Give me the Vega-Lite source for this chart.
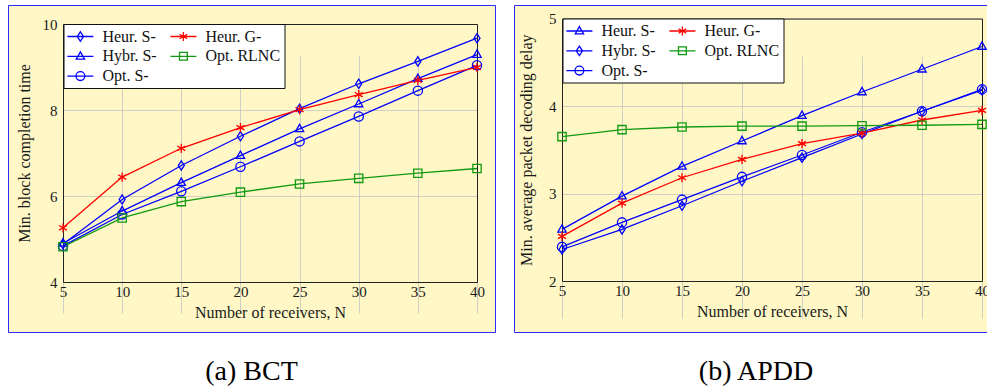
{
  "$schema": "https://vega.github.io/schema/vega-lite/v6.json",
  "padding": {"left": 7, "top": 4, "right": 0, "bottom": 0},
  "background": "white",
  "spacing": 17,
  "config": {
    "font": "Liberation Serif",
    "view": {"fill": "#fff8c6", "stroke": "#2a2aff", "strokeWidth": 1},
    "axis": {
      "labelFont": "Liberation Serif", "titleFont": "Liberation Serif",
      "labelFontSize": 15, "titleFontSize": 16, "titleFontWeight": "normal",
      "labelColor": "#1a1a1a", "titleColor": "#1a1a1a",
      "domainColor": "#222222", "domainWidth": 1, "ticks": false,
      "gridColor": "#c4c4c4", "gridWidth": 0.8,
      "labelFlush": false, "labelOverlap": false
    },
    "legend": {"labelFont": "Liberation Serif"}
  },
  "resolve": {"scale": {"color": "independent", "shape": "independent"}, "legend": {"color": "independent", "shape": "independent"}},
  "hconcat": [
    {
      "width": 487, "height": 327,
      "title": {"text": "(a) BCT", "orient": "bottom", "fontSize": 28, "font": "Liberation Serif", "fontWeight": "normal", "offset": 26, "anchor": "middle", "color": "black"},
      "data": {"values": [
        {"N": 5, "s": "Heur. S-", "v": 4.88}, {"N": 10, "s": "Heur. S-", "v": 5.92}, {"N": 15, "s": "Heur. S-", "v": 6.71}, {"N": 20, "s": "Heur. S-", "v": 7.39}, {"N": 25, "s": "Heur. S-", "v": 8.03}, {"N": 30, "s": "Heur. S-", "v": 8.61}, {"N": 35, "s": "Heur. S-", "v": 9.13}, {"N": 40, "s": "Heur. S-", "v": 9.67},
        {"N": 5, "s": "Hybr. S-", "v": 4.9}, {"N": 10, "s": "Hybr. S-", "v": 5.65}, {"N": 15, "s": "Hybr. S-", "v": 6.31}, {"N": 20, "s": "Hybr. S-", "v": 6.94}, {"N": 25, "s": "Hybr. S-", "v": 7.56}, {"N": 30, "s": "Hybr. S-", "v": 8.14}, {"N": 35, "s": "Hybr. S-", "v": 8.73}, {"N": 40, "s": "Hybr. S-", "v": 9.29},
        {"N": 5, "s": "Opt. S-", "v": 4.84}, {"N": 10, "s": "Opt. S-", "v": 5.57}, {"N": 15, "s": "Opt. S-", "v": 6.11}, {"N": 20, "s": "Opt. S-", "v": 6.68}, {"N": 25, "s": "Opt. S-", "v": 7.27}, {"N": 30, "s": "Opt. S-", "v": 7.85}, {"N": 35, "s": "Opt. S-", "v": 8.45}, {"N": 40, "s": "Opt. S-", "v": 9.04},
        {"N": 5, "s": "Heur. G-", "v": 5.26}, {"N": 10, "s": "Heur. G-", "v": 6.44}, {"N": 15, "s": "Heur. G-", "v": 7.11}, {"N": 20, "s": "Heur. G-", "v": 7.59}, {"N": 25, "s": "Heur. G-", "v": 8.01}, {"N": 30, "s": "Heur. G-", "v": 8.36}, {"N": 35, "s": "Heur. G-", "v": 8.69}, {"N": 40, "s": "Heur. G-", "v": 8.99},
        {"N": 5, "s": "Opt. RLNC", "v": 4.82}, {"N": 10, "s": "Opt. RLNC", "v": 5.49}, {"N": 15, "s": "Opt. RLNC", "v": 5.87}, {"N": 20, "s": "Opt. RLNC", "v": 6.09}, {"N": 25, "s": "Opt. RLNC", "v": 6.28}, {"N": 30, "s": "Opt. RLNC", "v": 6.41}, {"N": 35, "s": "Opt. RLNC", "v": 6.53}, {"N": 40, "s": "Opt. RLNC", "v": 6.64}
      ]},
      "resolve": {"axis": {"x": "independent", "y": "independent"}},
      "layer": [
        {
          "mark": {"type": "line", "strokeWidth": 1.3},
          "encoding": {
            "x": {"field": "N", "type": "quantitative",
              "scale": {"domain": [5, 40], "range": [55, 469], "nice": false, "zero": false},
              "axis": {"orient": "bottom", "offset": -50, "values": [5, 10, 15, 20, 25, 30, 35, 40], "grid": true, "labelPadding": 2, "title": "Number of receivers, N", "titlePadding": 5}},
            "y": {"field": "v", "type": "quantitative",
              "scale": {"domain": [4, 10], "range": [277, 19], "nice": false, "zero": false},
              "axis": {"orient": "left", "offset": -55, "values": [4, 6, 8, 10], "grid": true, "labelPadding": 6, "title": "Min. block completion time", "titlePadding": 10}},
            "color": {"field": "s", "type": "nominal",
              "scale": {"domain": ["Heur. S-", "Heur. G-", "Hybr. S-", "Opt. RLNC", "Opt. S-"], "range": ["#0000ff", "#ff0000", "#0000ff", "#119911", "#0000ff"]},
              "legend": {
                "orient": "none", "legendX": 55.5, "legendY": 19, "direction": "horizontal", "columns": 2, "title": null,
                "strokeColor": "#111111", "fillColor": "white", "padding": 3.5, "rowPadding": 2.8, "columnPadding": 10,
                "labelOffset": 13, "labelFont": "Liberation Serif", "labelFontSize": 16, "labelColor": "#111111",
                "symbolSize": 256, "symbolOffset": 4.4, "symbolStrokeWidth": 1.3, "symbolOpacity": 1,
                "encode": {"symbols": {"update": {
                  "fill": {"value": "transparent"},
                  "shape": {"signal": "datum.value === 'Heur. S-' ? 'M-1.625,0H1.625M0,-0.59L0.39,0L0,0.59L-0.39,0Z' : datum.value === 'Hybr. S-' ? 'M-1.625,0H1.625M0,-0.55L0.52,0.36L-0.52,0.36Z' : datum.value === 'Opt. S-' ? 'M-1.625,0H1.625M0.55,0A0.55,0.55 0 1 1 -0.55,0A0.55,0.55 0 1 1 0.55,0Z' : datum.value === 'Heur. G-' ? 'M-1.625,0H1.625M0,-0.55V0.55M-0.48,-0.275L0.48,0.275M-0.48,0.275L0.48,-0.275' : 'M-1.625,0H1.625M-0.49,-0.49H0.49V0.49H-0.49Z'"}
                }}}
              }}
          }
        },
        {
          "mark": {"type": "point", "filled": false, "size": 85, "strokeWidth": 1.3, "opacity": 1},
          "encoding": {
            "x": {"field": "N", "type": "quantitative",
              "scale": {"domain": [5, 40], "range": [55, 469], "nice": false, "zero": false},
              "axis": {"orient": "top", "offset": -19, "grid": false, "labels": false, "title": null}},
            "y": {"field": "v", "type": "quantitative",
              "scale": {"domain": [4, 10], "range": [277, 19], "nice": false, "zero": false},
              "axis": {"orient": "right", "offset": -18, "grid": false, "labels": false, "title": null}},
            "color": {"field": "s", "type": "nominal", "legend": null},
            "shape": {"field": "s", "type": "nominal", "legend": null,
              "scale": {"domain": ["Opt. S-", "Opt. RLNC", "Hybr. S-", "Heur. G-", "Heur. S-"],
                "range": ["M1,0A1,1 0 1 1 -1,0A1,1 0 1 1 1,0Z", "M-0.9,-0.9H0.9V0.9H-0.9Z", "M0,-1L0.9,0.6L-0.9,0.6Z", "M0,-1V1M-0.87,-0.5L0.87,0.5M-0.87,0.5L0.87,-0.5", "M0,-1L0.65,0L0,1L-0.65,0Z"]}}
          }
        }
      ]
    },
    {
      "width": 476, "height": 327,
      "title": {"text": "(b) APDD", "orient": "bottom", "fontSize": 28, "font": "Liberation Serif", "fontWeight": "normal", "offset": 26, "anchor": "middle", "dx": 4, "color": "black"},
      "data": {"values": [
        {"N": 5, "s": "Heur. S-", "v": 2.59}, {"N": 10, "s": "Heur. S-", "v": 2.97}, {"N": 15, "s": "Heur. S-", "v": 3.31}, {"N": 20, "s": "Heur. S-", "v": 3.6}, {"N": 25, "s": "Heur. S-", "v": 3.89}, {"N": 30, "s": "Heur. S-", "v": 4.16}, {"N": 35, "s": "Heur. S-", "v": 4.42}, {"N": 40, "s": "Heur. S-", "v": 4.68},
        {"N": 5, "s": "Hybr. S-", "v": 2.36}, {"N": 10, "s": "Hybr. S-", "v": 2.59}, {"N": 15, "s": "Hybr. S-", "v": 2.86}, {"N": 20, "s": "Hybr. S-", "v": 3.14}, {"N": 25, "s": "Hybr. S-", "v": 3.41}, {"N": 30, "s": "Hybr. S-", "v": 3.68}, {"N": 35, "s": "Hybr. S-", "v": 3.94}, {"N": 40, "s": "Hybr. S-", "v": 4.18},
        {"N": 5, "s": "Opt. S-", "v": 2.39}, {"N": 10, "s": "Opt. S-", "v": 2.67}, {"N": 15, "s": "Opt. S-", "v": 2.93}, {"N": 20, "s": "Opt. S-", "v": 3.19}, {"N": 25, "s": "Opt. S-", "v": 3.44}, {"N": 30, "s": "Opt. S-", "v": 3.7}, {"N": 35, "s": "Opt. S-", "v": 3.94}, {"N": 40, "s": "Opt. S-", "v": 4.19},
        {"N": 5, "s": "Heur. G-", "v": 2.51}, {"N": 10, "s": "Heur. G-", "v": 2.89}, {"N": 15, "s": "Heur. G-", "v": 3.18}, {"N": 20, "s": "Heur. G-", "v": 3.39}, {"N": 25, "s": "Heur. G-", "v": 3.57}, {"N": 30, "s": "Heur. G-", "v": 3.69}, {"N": 35, "s": "Heur. G-", "v": 3.84}, {"N": 40, "s": "Heur. G-", "v": 3.95},
        {"N": 5, "s": "Opt. RLNC", "v": 3.65}, {"N": 10, "s": "Opt. RLNC", "v": 3.73}, {"N": 15, "s": "Opt. RLNC", "v": 3.76}, {"N": 20, "s": "Opt. RLNC", "v": 3.77}, {"N": 25, "s": "Opt. RLNC", "v": 3.77}, {"N": 30, "s": "Opt. RLNC", "v": 3.775}, {"N": 35, "s": "Opt. RLNC", "v": 3.78}, {"N": 40, "s": "Opt. RLNC", "v": 3.79}
      ]},
      "resolve": {"axis": {"x": "independent", "y": "independent"}},
      "layer": [
        {
          "mark": {"type": "line", "strokeWidth": 1.3},
          "encoding": {
            "x": {"field": "N", "type": "quantitative",
              "scale": {"domain": [5, 40], "range": [48, 468], "nice": false, "zero": false},
              "axis": {"orient": "bottom", "offset": -51, "values": [5, 10, 15, 20, 25, 30, 35, 40], "grid": true, "labelPadding": 2, "title": "Number of receivers, N", "titlePadding": 5}},
            "y": {"field": "v", "type": "quantitative",
              "scale": {"domain": [2, 5], "range": [276, 13.5], "nice": false, "zero": false},
              "axis": {"orient": "left", "offset": -48, "values": [2, 3, 4, 5], "grid": true, "labelPadding": 6, "title": "Min. average packet decoding delay", "titlePadding": 14}},
            "color": {"field": "s", "type": "nominal",
              "scale": {"domain": ["Heur. S-", "Heur. G-", "Hybr. S-", "Opt. RLNC", "Opt. S-"], "range": ["#0000ff", "#ff0000", "#0000ff", "#119911", "#0000ff"]},
              "legend": {
                "orient": "none", "legendX": 48.5, "legendY": 13.5, "direction": "horizontal", "columns": 2, "title": null,
                "strokeColor": "#111111", "fillColor": "white", "padding": 3.5, "rowPadding": 2.8, "columnPadding": 10,
                "labelOffset": 13, "labelFont": "Liberation Serif", "labelFontSize": 16, "labelColor": "#111111",
                "symbolSize": 256, "symbolOffset": 4.4, "symbolStrokeWidth": 1.3, "symbolOpacity": 1,
                "encode": {"symbols": {"update": {
                  "fill": {"value": "transparent"},
                  "shape": {"signal": "datum.value === 'Hybr. S-' ? 'M-1.625,0H1.625M0,-0.59L0.39,0L0,0.59L-0.39,0Z' : datum.value === 'Heur. S-' ? 'M-1.625,0H1.625M0,-0.55L0.52,0.36L-0.52,0.36Z' : datum.value === 'Opt. S-' ? 'M-1.625,0H1.625M0.55,0A0.55,0.55 0 1 1 -0.55,0A0.55,0.55 0 1 1 0.55,0Z' : datum.value === 'Heur. G-' ? 'M-1.625,0H1.625M0,-0.55V0.55M-0.48,-0.275L0.48,0.275M-0.48,0.275L0.48,-0.275' : 'M-1.625,0H1.625M-0.49,-0.49H0.49V0.49H-0.49Z'"}
                }}}
              }}
          }
        },
        {
          "mark": {"type": "point", "filled": false, "size": 85, "strokeWidth": 1.3, "opacity": 1},
          "encoding": {
            "x": {"field": "N", "type": "quantitative",
              "scale": {"domain": [5, 40], "range": [48, 468], "nice": false, "zero": false},
              "axis": {"orient": "top", "offset": -13.5, "grid": false, "labels": false, "title": null}},
            "y": {"field": "v", "type": "quantitative",
              "scale": {"domain": [2, 5], "range": [276, 13.5], "nice": false, "zero": false},
              "axis": {"orient": "right", "offset": -8, "grid": false, "labels": false, "title": null}},
            "color": {"field": "s", "type": "nominal", "legend": null},
            "shape": {"field": "s", "type": "nominal", "legend": null,
              "scale": {"domain": ["Opt. S-", "Opt. RLNC", "Hybr. S-", "Heur. G-", "Heur. S-"],
                "range": ["M1,0A1,1 0 1 1 -1,0A1,1 0 1 1 1,0Z", "M-0.9,-0.9H0.9V0.9H-0.9Z", "M0,-1L0.65,0L0,1L-0.65,0Z", "M0,-1V1M-0.87,-0.5L0.87,0.5M-0.87,0.5L0.87,-0.5", "M0,-1L0.9,0.6L-0.9,0.6Z"]}}
          }
        }
      ]
    }
  ]
}
